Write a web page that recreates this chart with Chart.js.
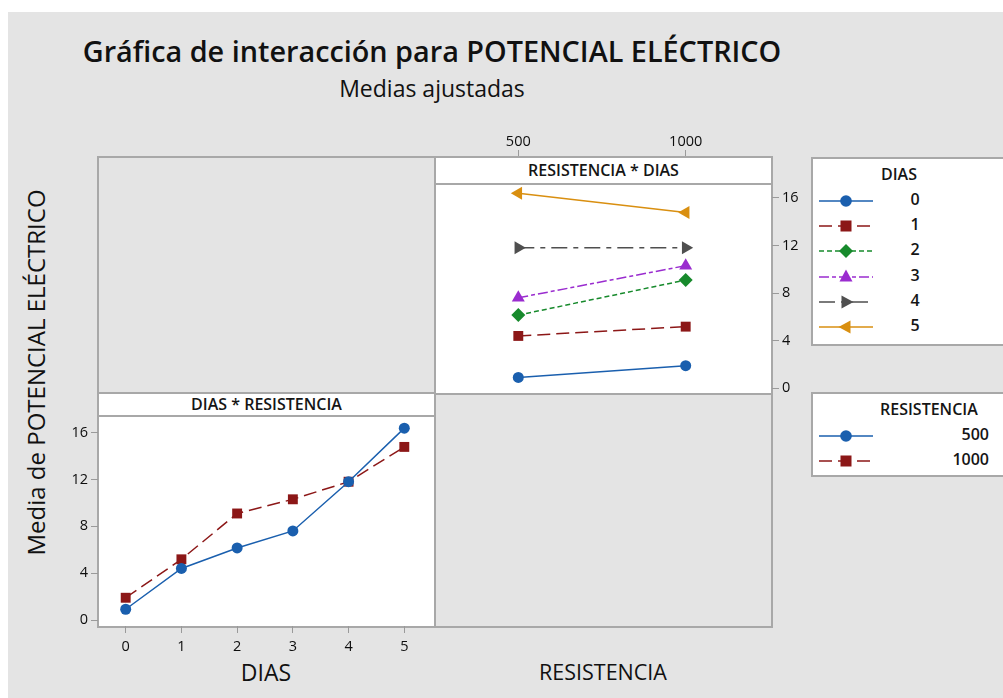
<!DOCTYPE html>
<html>
<head>
<meta charset="utf-8">
<script src="https://cdn.jsdelivr.net/npm/chart.js@4.4.1/dist/chart.umd.min.js"></script>
<style>
    body { margin: 0; width: 1003px; height: 698px; overflow: hidden; background: #fff; position: relative;
           font-family: 'Open Sans', sans-serif; color: #1a1a1a; }
    .abs { position: absolute; }
    .frame { position: absolute; border: 2px solid #a8a8a8; box-sizing: border-box; }
    .head { position: absolute; background: #fff; border: 2px solid #a8a8a8; box-sizing: border-box;
            font-size: 16px; font-weight: 600; text-align: center; color: #151515; z-index: 3; }
    canvas { position: absolute; z-index: 2; }
    .legrow { position: absolute; height: 16px; font-size: 16px; font-weight: 600; color: #151515; }
</style>
</head>
<body>
<div class="abs" style="left:8px;top:12px;width:995px;height:686px;background:#e4e4e4"></div>

<div class="abs" style="left:0;top:31px;width:864px;text-align:center;font-size:28.8px;font-weight:600;color:#111">Gráfica de interacción para POTENCIAL ELÉCTRICO</div>
<div class="abs" style="left:0;top:72px;width:864px;text-align:center;font-size:23px;color:#111">Medias ajustadas</div>

<!-- y axis title -->
<div class="abs" style="left:-165px;top:356px;width:400px;text-align:center;font-size:24px;transform:rotate(-90deg);color:#111">Media de POTENCIAL ELÉCTRICO</div>

<!-- panels -->
<div class="frame" style="left:97px;top:156px;width:339px;height:239px;background:#e4e4e4"></div>
<div class="frame" style="left:434px;top:156px;width:339px;height:239px;background:#fff;z-index:1"></div>
<div class="head" style="left:434px;top:156px;width:339px;height:29px;line-height:25px">RESISTENCIA * DIAS</div>
<div class="frame" style="left:97px;top:392px;width:339px;height:236px;background:#fff;z-index:1"></div>
<div class="head" style="left:97px;top:392px;width:339px;height:25px;line-height:21px">DIAS * RESISTENCIA</div>
<div class="frame" style="left:434px;top:392px;width:339px;height:236px;background:#e4e4e4"></div>

<canvas id="chartTR" width="378" height="273" style="left:434px;top:120px"></canvas>
<canvas id="chartBL" width="386" height="264" style="left:48px;top:393px"></canvas>

<div class="abs" style="left:98px;top:656px;width:336px;text-align:center;font-size:23px;color:#111">DIAS</div>
<div class="abs" style="left:434px;top:657px;width:338px;text-align:center;font-size:21.5px;color:#111">RESISTENCIA</div>

<!-- legends -->
<div class="frame" id="legDias" style="left:811px;top:157px;width:200px;height:189px;background:#fff"></div>
<div class="frame" id="legRes" style="left:811px;top:392px;width:200px;height:85px;background:#fff"></div>

<script>
// data (adjusted means of POTENCIAL ELÉCTRICO)
const dias = [0, 1, 2, 3, 4, 5];
const resistencias = [500, 1000];
const media500 = [0.92, 4.4, 6.15, 7.6, 11.8, 16.37];
const media1000 = [1.9, 5.18, 9.09, 10.3, 11.8, 14.77];
const yTicks = [0, 4, 8, 12, 16];

// styles
const diasColors = ['#1a5fae', '#8c1717', '#178a2c', '#9a2ccf', '#4f4f4f', '#d98f10'];
const diasMarkers = ['circle', 'rect', 'rectRot', 'triangle', 'triangle', 'triangle'];
const diasRotation = [0, 0, 0, 0, 90, -90];
const diasDash = [[], [13, 6], [5, 3], [10, 3, 4, 3], [16, 6, 5, 6], []];
const markerRadius = { circle: 5.5, rect: 7, rectRot: 7, triangle: 7.5 };

const tickFont = { family: 'Open Sans', size: 14.5 };

// keep the plot area exactly where the frame is
function noPadding(s) {
    s.paddingTop = 0;
    s.paddingBottom = 0;
    s.paddingLeft = 0;
    s.paddingRight = 0;
}

function axisX(min, max, ticks, pos, size, pad) {
    return {
        type: 'linear', position: pos, min: min, max: max,
        afterBuildTicks: s => { s.ticks = ticks.map(v => ({ value: v })); },
        afterFit: s => { s.height = size; noPadding(s); },
        grid: { drawOnChartArea: false, tickLength: 7, color: '#9a9a9a' },
        border: { display: false },
        ticks: { padding: pad, font: tickFont, color: '#0d0d0d', callback: v => String(v), maxRotation: 0 }
    };
}

function axisY(min, max, pos, size) {
    return {
        type: 'linear', position: pos, min: min, max: max,
        afterBuildTicks: s => { s.ticks = yTicks.map(v => ({ value: v })); },
        afterFit: s => { s.width = size; noPadding(s); },
        grid: { drawOnChartArea: false, tickLength: 7, color: '#9a9a9a' },
        border: { display: false },
        ticks: { padding: 3, font: tickFont, color: '#0d0d0d', callback: v => String(v) }
    };
}

function baseOptions(scales) {
    return {
        responsive: false,
        animation: false,
        layout: { padding: 0, autoPadding: false },
        plugins: { legend: { display: false }, tooltip: { enabled: false } },
        scales: scales
    };
}

function lineSet(label, data, color, marker, rot, dash) {
    return {
        label: label,
        data: data,
        borderColor: color,
        backgroundColor: color,
        borderWidth: 1.5,
        borderDash: dash,
        pointStyle: marker,
        pointRotation: rot,
        pointRadius: markerRadius[marker],
        pointBorderWidth: 0,
        pointBackgroundColor: color,
        tension: 0,
        clip: false
    };
}

// top right: RESISTENCIA * DIAS
const trSets = dias.map((d, i) => lineSet(String(d),
    resistencias.map((r, j) => ({ x: r, y: j == 0 ? media500[i] : media1000[i] })),
    diasColors[i], diasMarkers[i], diasRotation[i], diasDash[i]));

new Chart(document.getElementById('chartTR').getContext('2d'), {
    type: 'line',
    data: { datasets: trSets },
    options: baseOptions({
        x: axisX(248.2, 1257.8, resistencias, 'top', 37, -1),
        y: axisY(-0.39, 19.42, 'right', 40)
    })
});

// bottom left: DIAS * RESISTENCIA
const blSets = [
    lineSet('500', dias.map((d, i) => ({ x: d, y: media500[i] })), diasColors[0], 'circle', 0, []),
    lineSet('1000', dias.map((d, i) => ({ x: d, y: media1000[i] })), diasColors[1], 'rect', 0, [13, 6])
];

new Chart(document.getElementById('chartBL').getContext('2d'), {
    type: 'line',
    data: { datasets: blSets },
    options: baseOptions({
        x: axisX(-0.497, 5.533, dias, 'bottom', 31, 5),
        y: axisY(-0.51, 19.37, 'left', 50)
    })
});

// legends
function markerSvg(color, marker, rot, dash) {
    const dashAttr = dash.length ? ` stroke-dasharray="${dash.join(' ')}"` : '';
    let shape = '';
    if (marker == 'circle') shape = `<circle cx="27" cy="8" r="5.8" fill="${color}"/>`;
    else if (marker == 'rect') shape = `<rect x="21.5" y="2.5" width="11" height="11" fill="${color}"/>`;
    else if (marker == 'rectRot') shape = `<polygon points="27,1 34,8 27,15 20,8" fill="${color}"/>`;
    else shape = `<polygon points="27,0.5 33.5,12.5 20.5,12.5" fill="${color}" transform="rotate(${rot} 27 8)"/>`;
    return `<svg width="56" height="16" style="position:absolute;left:0;top:0">` +
        `<line x1="0" y1="8" x2="54" y2="8" stroke="${color}" stroke-width="1.6"${dashAttr}/>${shape}</svg>`;
}

function addRow(top, label, color, marker, rot, dash, textStyle) {
    const row = document.createElement('div');
    row.className = 'legrow';
    row.style.left = '819px';
    row.style.top = top + 'px';
    row.style.width = '170px';
    row.innerHTML = markerSvg(color, marker, rot, dash) +
        `<span style="position:absolute;top:-5px;${textStyle}">${label}</span>`;
    document.body.appendChild(row);
}

const legTitle1 = document.createElement('div');
legTitle1.className = 'abs';
legTitle1.style.cssText = 'left:881px;top:163px;font-size:16px;font-weight:600;color:#151515';
legTitle1.textContent = 'DIAS';
document.body.appendChild(legTitle1);

dias.forEach((d, i) => {
    addRow(193 + i * 25.2, String(d), diasColors[i], diasMarkers[i], diasRotation[i], diasDash[i],
        'left:90px;width:12px;text-align:center');
});

const legTitle2 = document.createElement('div');
legTitle2.className = 'abs';
legTitle2.style.cssText = 'left:880px;top:398px;font-size:16px;font-weight:600;color:#151515';
legTitle2.textContent = 'RESISTENCIA';
document.body.appendChild(legTitle2);

resistencias.forEach((r, i) => {
    addRow(428 + i * 25, String(r), diasColors[i], i == 0 ? 'circle' : 'rect', 0, i == 0 ? [] : [13, 6],
        'right:0;text-align:right');
});
</script>
</body>
</html>
